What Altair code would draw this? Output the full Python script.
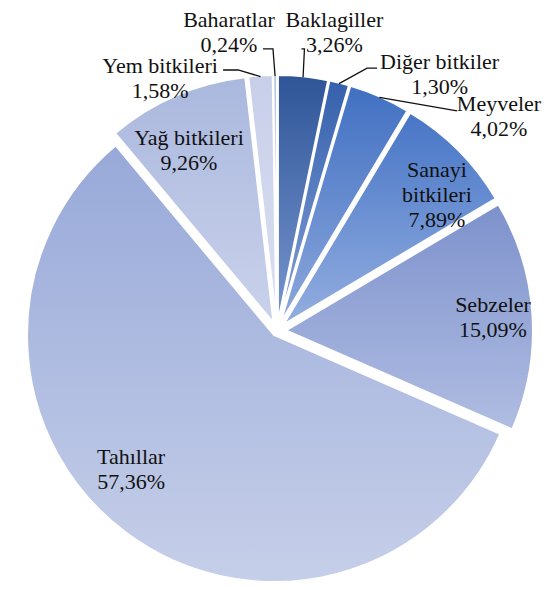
import altair as alt
import pandas as pd

# ---- data (clockwise from 12 o'clock) ----
categories = ["Baklagiller", "Diğer bitkiler", "Meyveler", "Sanayi bitkileri",
              "Sebzeler", "Tahıllar", "Yağ bitkileri", "Yem bitkileri", "Baharatlar"]
shares = [3.26, 1.30, 4.02, 7.89, 15.09, 57.36, 9.26, 1.58, 0.24]

# ---- styles ----
top_colors = ["#2F5597", "#3560AC", "#4170C2", "#4775C6", "#7D91CC",
              "#98A9D9", "#AAB8DE", "#C8CFE9", "#B4C2E6"]
bottom_colors = ["#7896D0", "#83A0D7", "#8DA8DC", "#93AEE0", "#B0BDE2",
                 "#C6CFE9", "#CAD2EB", "#DADFF1", "#D2DAEF"]
explode = [9, 9, 9, 9, 9, 5, 9, 9, 9]          # px offset of each slice
wrap_name = [False, False, False, True, False, False, False, False, False]

# label placement (around label origin): polar radius (px) and angular nudge (deg)
label_radius = [307.5, 307.0, 311.5, 212.6, 216.7, 198.5, 204.4, 281.9, 305.9]
label_shift = [4.9, 17.9, 21.8, 3.7, -1.1, 10.45, -2.3, -20.8, -8.6]

# leader lines: offsets of tail / elbow relative to label centre
has_leader = [True, True, True, False, False, False, False, True, True]
tail_dx = [-33, -62.5, -42, 0, 0, 0, 0, 63, 34]
tail_dy = [16, -6.5, -5.5, 0, 0, 0, 0, -8.5, 16]
elb_dx = [-30, -72.5, -42, 0, 0, 0, 0, 78, 44]
elb_dy = [16, -6.5, -5.5, 0, 0, 0, 0, -8.5, 16]

CX, CY, R = 269, 323, 247      # pie centre and radius
LX, LY = 269, 327              # label origin
LINE_H = 25
FONT = "Liberation Serif"

df = pd.DataFrame({
    "cat": categories, "value": shares, "idx": list(range(len(categories))),
    "expl": explode, "wrap": wrap_name, "lr": label_radius, "ls": label_shift,
    "lead": has_leader, "tdx": tail_dx, "tdy": tail_dy, "edx": elb_dx, "edy": elb_dy,
})

base = (
    alt.Chart(df)
    .transform_joinaggregate(total="sum(value)")
    .transform_window(cum="sum(value)", sort=[alt.SortField("idx")], frame=[None, 0])
    .transform_calculate(p0="(datum.cum - datum.value) / datum.total * 100")
    .transform_calculate(p1="datum.cum / datum.total * 100")
    .transform_calculate(mid="(datum.p0 + datum.p1) / 100 * PI")
    .transform_calculate(ox=f"{CX} + datum.expl * sin(datum.mid)")
    .transform_calculate(oy=f"{CY} - datum.expl * cos(datum.mid)")
    .transform_calculate(la="datum.mid + datum.ls * PI / 180")
    .transform_calculate(lx=f"{LX} + datum.lr * sin(datum.la)")
    .transform_calculate(ly=f"{LY} - datum.lr * cos(datum.la)")
)

arcs = []
for i, c in enumerate(categories):
    grad = alt.LinearGradient(
        gradient="linear",
        stops=[alt.GradientStop(color=top_colors[i], offset=0),
               alt.GradientStop(color=bottom_colors[i], offset=1)],
        x1=0, x2=0, y1=0, y2=1,
    )
    arcs.append(
        base.transform_filter(alt.datum.cat == c)
        .mark_arc(radius=R, fill=grad, stroke="white", strokeWidth=2)
        .encode(
            theta=alt.Theta("p0:Q", scale=alt.Scale(domain=[0, 100])),
            theta2="p1:Q",
            x=alt.X("ox:Q", scale=None),
            y=alt.Y("oy:Q", scale=None),
        )
    )

leaders = (
    base.transform_filter("datum.lead")
    .transform_calculate(pts="[0, 1, 2]")
    .transform_flatten(["pts"])
    .transform_calculate(
        px=f"datum.pts == 0 ? datum.lx + datum.tdx : (datum.pts == 1 ? datum.lx + datum.edx : datum.ox + {R - 1} * sin(datum.mid))"
    )
    .transform_calculate(
        py=f"datum.pts == 0 ? datum.ly + datum.tdy : (datum.pts == 1 ? datum.ly + datum.edy : datum.oy - {R - 1} * cos(datum.mid))"
    )
    .mark_line(color="#111111", strokeWidth=1.3)
    .encode(
        x=alt.X("px:Q", scale=None),
        y=alt.Y("py:Q", scale=None),
        detail="cat:N",
        order="pts:Q",
    )
)

labels = (
    base.transform_calculate(pct="replace(format(datum.value, '.2f'), '.', ',') + '%'")
    .transform_calculate(
        lines="datum.wrap ? [split(datum.cat, ' ')[0], split(datum.cat, ' ')[1], datum.pct] : [datum.cat, datum.pct]"
    )
    .transform_calculate(lidx="datum.wrap ? [0, 1, 2] : [0, 1]")
    .transform_calculate(nl="datum.wrap ? 3 : 2")
    .transform_flatten(["lines", "lidx"])
    .transform_calculate(ty=f"datum.ly + (datum.lidx - (datum.nl - 1) / 2) * {LINE_H}")
    .mark_text(font=FONT, fontSize=22, align="center", baseline="middle",
               color="#111111")
    .encode(
        x=alt.X("lx:Q", scale=None),
        y=alt.Y("ty:Q", scale=None),
        text=alt.Text("lines:N"),
    )
)

chart = (
    alt.layer(*arcs, leaders, labels)
    .properties(width=534, height=574, padding=0,
                autosize=alt.AutoSizeParams(type="none"))
    .configure_view(stroke=None)
    .configure_text(font=FONT)
)

chart.save("out.html", embed_options={"renderer": "svg", "actions": False})
